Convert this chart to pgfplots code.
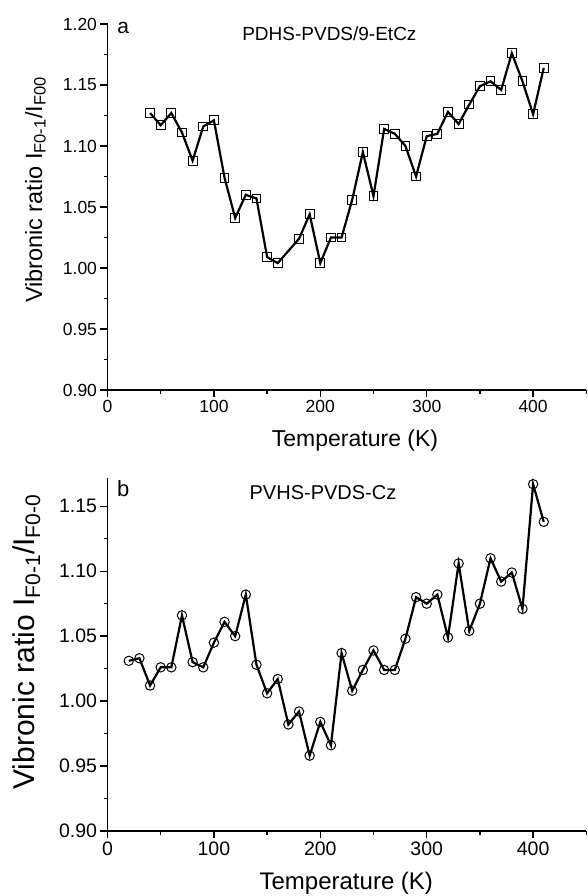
\documentclass[border=0pt]{standalone}
\usepackage{fontspec}
\setmainfont{Liberation Sans}
\usepackage{pgfplots}
\pgfplotsset{compat=1.18}

\pgfplotsset{
  vibaxis/.style={
    scale only axis,
    width=478.8pt,
    xmin=0, xmax=450,
    axis x line*=bottom,
    axis y line*=left,
    axis line style={line width=1.6pt},
    every axis line/.append style={-},
    tick align=outside,
    major tick length=7pt,
    minor tick length=4pt,
    every tick/.style={black, line width=1.4pt},
    xtick={0,100,200,300,400},
    minor xtick={50,150,250,350,450},
    /pgf/number format/assume math mode=true,
    yticklabel style={/pgf/number format/.cd, fixed, fixed zerofill, precision=2},
    xticklabel style={/pgf/number format/.cd, fixed},
    clip=false,
  },
  vibline/.style={black, line width=2.2pt, mark options={solid, fill=none, line width=1pt}},
}

\begin{document}
\begin{tikzpicture}
\path[use as bounding box] (0pt,0pt) rectangle (587pt,896pt);

% panel a
\begin{axis}[vibaxis,
  at={(107.5pt,506pt)}, anchor=south west,
  height=366pt,
  ymin=0.90, ymax=1.20,
  ytick={0.90,0.95,1.00,1.05,1.10,1.15,1.20},
  minor ytick={0.925,0.975,1.025,1.075,1.125,1.175},
  tick label style={font=\fontsize{17.5}{20}\selectfont},
]
\addplot[vibline, mark=square, mark size=4.4pt] coordinates {
(40,1.127) (50,1.117) (60,1.127) (70,1.111) (80,1.088) (90,1.116) (100,1.121)
(110,1.074) (120,1.041) (130,1.060) (140,1.057) (150,1.009) (160,1.004)
(180,1.024) (190,1.044) (200,1.004) (210,1.025) (220,1.025) (230,1.056)
(240,1.095) (250,1.059) (260,1.114) (270,1.110) (280,1.100) (290,1.075)
(300,1.108) (310,1.110) (320,1.128) (330,1.118) (340,1.134) (350,1.149)
(360,1.153) (370,1.146) (380,1.176) (390,1.153) (400,1.126) (410,1.164)
};
\end{axis}

% panel b
\begin{axis}[vibaxis,
  at={(107.5pt,65pt)}, anchor=south west,
  height=353.3pt,
  ymin=0.90, ymax=1.172,
  ytick={0.90,0.95,1.00,1.05,1.10,1.15},
  minor ytick={0.925,0.975,1.025,1.075,1.125},
  tick label style={font=\fontsize{19.5}{22}\selectfont},
]
\addplot[vibline, mark=o, mark size=4.7pt] coordinates {
(20,1.031) (30,1.033) (40,1.012) (50,1.026) (60,1.026) (70,1.066) (80,1.030)
(90,1.026) (100,1.045) (110,1.061) (120,1.050) (130,1.082) (140,1.028)
(150,1.006) (160,1.017) (170,0.982) (180,0.992) (190,0.958) (200,0.984)
(210,0.966) (220,1.037) (230,1.008) (240,1.024) (250,1.039) (260,1.024)
(270,1.024) (280,1.048) (290,1.080) (300,1.075) (310,1.082) (320,1.049)
(330,1.106) (340,1.054) (350,1.075) (360,1.110) (370,1.092) (380,1.099)
(390,1.071) (400,1.167) (410,1.138)
};
\end{axis}

% texts panel a
\node[font=\fontsize{21}{24}\selectfont] at (123.3pt,868pt) {a};
\node[font=\fontsize{19}{22}\selectfont] at (329.4pt,862.3pt) {PDHS-PVDS/9-EtCz};
\node[font=\fontsize{23}{26}\selectfont] at (355pt,455pt) {Temperature (K)};
\node[font=\fontsize{23.5}{26}\selectfont, rotate=90, anchor=base] at (42pt,706pt)
  {Vibronic ratio I\textsubscript{F0-1}/I\textsubscript{F00}};

% texts panel b
\node[font=\fontsize{22}{25}\selectfont] at (123.3pt,407.7pt) {b};
\node[font=\fontsize{20}{23}\selectfont] at (323pt,403.3pt) {PVHS-PVDS-Cz};
\node[font=\fontsize{24}{27}\selectfont] at (346.3pt,13pt) {Temperature (K)};
\node[font=\fontsize{30}{33}\selectfont, rotate=90, anchor=base] at (34pt,254pt)
  {Vibronic ratio I\textsubscript{F0-1}/I\textsubscript{F0-0}};
\end{tikzpicture}
\end{document}
